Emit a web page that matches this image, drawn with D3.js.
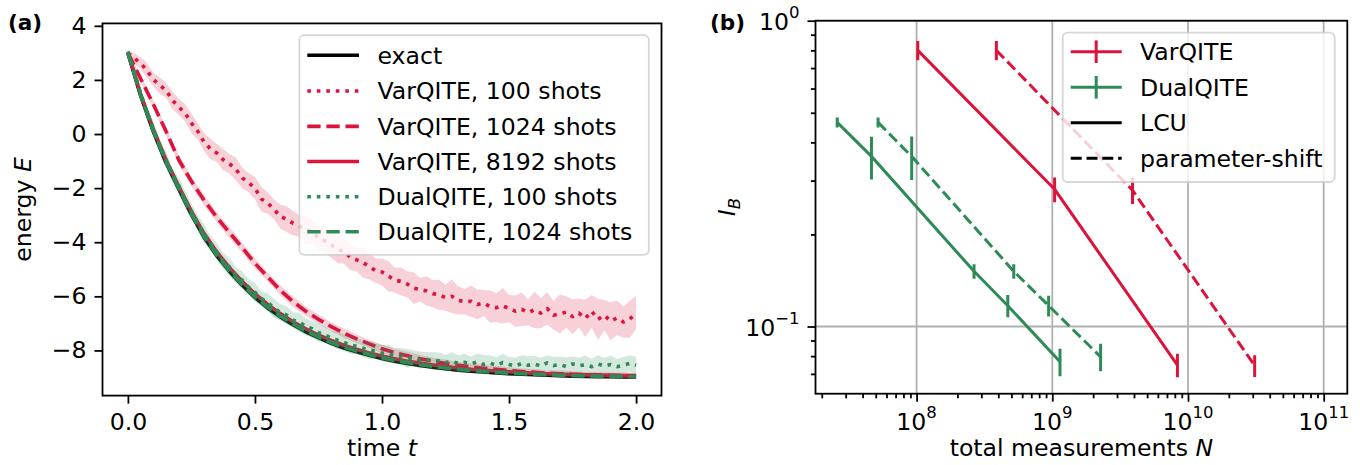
<!DOCTYPE html>
<html><head><meta charset="utf-8">
<script src="https://cdn.jsdelivr.net/npm/d3@7"></script>
<style>body{margin:0;background:#fff} text{font-family:"DejaVu Sans",sans-serif}</style>
</head><body><svg id="c" width="1360" height="465" xmlns="http://www.w3.org/2000/svg"></svg>
<script>
// ---------------- DATA: panel (a) ----------------
const timeCoarse = d3.range(41).map(i => i * 0.05);   // t = 0 ... 2.0
const timeFine = d3.range(81).map(i => i * 0.025);    // t = 0 ... 2.0
const exactE = [3.00,1.42,0.09,-1.06,-2.03,-2.98,-3.82,-4.50,-5.08,-5.59,-6.04,-6.43,-6.76,-7.05,-7.31,-7.53,-7.74,-7.91,-8.05,-8.18,-8.30,-8.40,-8.48,-8.56,-8.62,-8.68,-8.73,-8.77,-8.80,-8.83,-8.86,-8.88,-8.90,-8.92,-8.935,-8.95,-8.96,-8.97,-8.975,-8.98,-8.985];
const var100E = [3.00,2.80,2.62,2.35,2.02,1.80,1.62,1.25,1.00,0.78,
 0.40,0.10,-0.30,-0.55,-0.70,-0.95,-1.10,-1.30,-1.62,-1.80,
 -2.00,-2.40,-2.55,-2.78,-3.05,-3.15,-3.30,-3.40,-3.55,-3.60,
 -3.85,-3.95,-4.10,-4.25,-4.35,-4.55,-4.65,-4.75,-4.90,-5.05,
 -5.10,-5.25,-5.40,-5.45,-5.55,-5.70,-5.75,-5.80,-5.90,-5.95,
 -6.05,-6.00,-6.15,-6.20,-6.18,-6.30,-6.25,-6.38,-6.42,-6.35,
 -6.45,-6.55,-6.48,-6.60,-6.50,-6.62,-6.45,-6.70,-6.65,-6.58,
 -6.75,-6.62,-6.82,-6.55,-6.85,-6.70,-6.92,-6.80,-6.95,-6.85,
 -6.60];
const var100Std = [0.10,0.18,0.22,0.28,0.25,0.30,0.28,0.33,0.30,0.32,
 0.36,0.30,0.34,0.38,0.33,0.40,0.36,0.42,0.38,0.35,
 0.42,0.46,0.40,0.36,0.44,0.48,0.45,0.40,0.52,0.44,
 0.48,0.42,0.46,0.52,0.45,0.48,0.43,0.55,0.48,0.45,
 0.50,0.56,0.46,0.52,0.48,0.58,0.44,0.54,0.50,0.56,
 0.48,0.62,0.52,0.47,0.58,0.55,0.48,0.60,0.53,0.66,
 0.50,0.58,0.62,0.48,0.68,0.56,0.60,0.53,0.72,0.58,
 0.64,0.54,0.68,0.60,0.76,0.56,0.70,0.64,0.58,0.68,
 0.62];
const var1024E = [3.00,2.05,1.10,0.10,-0.95,-1.75,-2.45,-3.08,-3.65,-4.20,-4.78,-5.28,-5.78,-6.20,-6.55,-6.85,-7.12,-7.36,-7.57,-7.76,-7.94,-8.08,-8.20,-8.31,-8.40,-8.48,-8.55,-8.61,-8.66,-8.70,-8.74,-8.78,-8.81,-8.84,-8.86,-8.88,-8.90,-8.91,-8.92,-8.93,-8.94];
const var1024Std = [0.05,0.12,0.15,0.16,0.18,0.17,0.19,0.18,0.20,0.18,0.19,0.17,0.18,0.19,0.17,0.18,0.16,0.17,0.16,0.15,0.16,0.14,0.15,0.14,0.13,0.14,0.12,0.13,0.12,0.13,0.12,0.11,0.12,0.11,0.12,0.11,0.10,0.11,0.10,0.11,0.10];
const var8192E = [3.00,1.48,0.18,-0.96,-1.93,-2.86,-3.68,-4.36,-4.94,-5.45,-5.90,-6.30,-6.64,-6.94,-7.20,-7.43,-7.63,-7.81,-7.96,-8.09,-8.21,-8.31,-8.40,-8.47,-8.54,-8.60,-8.65,-8.70,-8.73,-8.76,-8.79,-8.82,-8.84,-8.86,-8.88,-8.89,-8.90,-8.91,-8.92,-8.93,-8.93];
const dual100E = [3.05,2.30,1.50,0.80,0.20,-0.42,-0.95,-1.50,-1.90,-2.42,
 -2.85,-3.30,-3.68,-4.05,-4.35,-4.70,-4.92,-5.22,-5.40,-5.66,
 -5.85,-6.08,-6.22,-6.45,-6.58,-6.70,-6.88,-6.95,-7.12,-7.20,
 -7.35,-7.42,-7.55,-7.62,-7.70,-7.80,-7.85,-7.92,-8.00,-8.02,
 -8.10,-8.12,-8.20,-8.22,-8.30,-8.28,-8.36,-8.33,-8.40,-8.38,
 -8.45,-8.40,-8.48,-8.44,-8.50,-8.42,-8.52,-8.47,-8.55,-8.45,
 -8.52,-8.58,-8.48,-8.55,-8.50,-8.58,-8.46,-8.56,-8.52,-8.60,
 -8.50,-8.57,-8.53,-8.60,-8.50,-8.58,-8.52,-8.60,-8.55,-8.48,
 -8.55];
const dual100Std = [0.12,0.20,0.25,0.22,0.28,0.24,0.30,0.26,0.28,0.32,
 0.27,0.30,0.34,0.28,0.32,0.30,0.35,0.29,0.33,0.30,
 0.34,0.28,0.32,0.36,0.30,0.33,0.28,0.35,0.31,0.29,
 0.33,0.30,0.27,0.34,0.30,0.32,0.28,0.31,0.34,0.29,
 0.30,0.33,0.28,0.31,0.35,0.29,0.32,0.27,0.33,0.30,
 0.28,0.34,0.30,0.32,0.27,0.31,0.35,0.29,0.30,0.33,
 0.28,0.32,0.30,0.34,0.29,0.31,0.27,0.33,0.30,0.35,
 0.28,0.31,0.33,0.29,0.32,0.30,0.34,0.28,0.31,0.30,
 0.32];
const dual1024E = [3.00,1.45,0.12,-1.02,-2.00,-2.95,-3.79,-4.47,-5.05,-5.56,-6.01,-6.40,-6.73,-7.02,-7.28,-7.50,-7.71,-7.88,-8.02,-8.15,-8.27,-8.37,-8.45,-8.53,-8.59,-8.65,-8.70,-8.74,-8.78,-8.81,-8.84,-8.86,-8.88,-8.90,-8.915,-8.93,-8.94,-8.95,-8.955,-8.96,-8.965];
const dual1024Std = [0.05,0.12,0.14,0.15,0.16,0.15,0.16,0.15,0.16,0.14,0.15,0.14,0.15,0.13,0.14,0.13,0.12,0.13,0.12,0.12,0.11,0.12,0.11,0.10,0.11,0.10,0.10,0.09,0.10,0.09,0.09,0.08,0.09,0.08,0.09,0.08,0.08,0.07,0.08,0.07,0.07];
const xTicksA = [0, 0.5, 1.0, 1.5, 2.0];
const yTicksA = [4, 2, 0, -2, -4, -6, -8];
const legendLabelsA = ["exact","VarQITE, 100 shots","VarQITE, 1024 shots","VarQITE, 8192 shots","DualQITE, 100 shots","DualQITE, 1024 shots"];

// ---------------- DATA: panel (b) ----------------
const varLcuN = [1.02e8, 1.04e9, 8.36e9];
const varLcuI = [0.80, 0.281, 0.0748];
const varLcuErr = [0.058, 0.026, 0.0066];
const varPsN = [3.87e8, 3.9e9, 3.1e10];
const varPsI = [0.80, 0.279, 0.0745];
const varPsErr = [0.058, 0.0276, 0.0061];
const dualLcuN = [2.6e7, 4.65e7, 2.65e8, 4.7e8, 1.14e9];
const dualLcuI = [0.465, 0.36, 0.1515, 0.117, 0.0767];
const dualLcuErr = [0.0179, 0.0577, 0.0082, 0.0097, 0.0079];
const dualPsN = [5.2e7, 9.2e7, 5.2e8, 9.4e8, 2.27e9];
const dualPsI = [0.465, 0.36, 0.1515, 0.117, 0.0796];
const dualPsErr = [0.0179, 0.0585, 0.0082, 0.0091, 0.0082];
const xTicksB = [1e8, 1e9, 1e10, 1e11];
const yTicksB = [0.1, 1];
const legendLabelsB = ["VarQITE", "DualQITE", "LCU", "parameter-shift"];

// ---------------- STYLE ----------------
const RED = "#DC143C", GREEN = "#2E8B57";
const FS = 23.6, FONT = '"DejaVu Sans", sans-serif';
const svg = d3.select("#c");
const defs = svg.append("defs");

function styleAxis(g) {
  g.select(".domain").remove();
  g.selectAll(".tick line").attr("stroke", "#000").attr("stroke-width", 1.8);
  g.selectAll(".tick text").attr("font-size", FS).attr("font-family", FONT).attr("fill", "#000");
}

// ================= PANEL (a) =================
const A = {l: 102.5, r: 661.5, t: 23.4, b: 395.6};
const xA = d3.scaleLinear().domain([-0.1, 2.1]).range([A.l, A.r]);
const yA = d3.scaleLinear().domain([-9.67, 4.09]).range([A.b, A.t]);
defs.append("clipPath").attr("id", "clipA").append("rect")
  .attr("x", A.l).attr("y", A.t).attr("width", A.r - A.l).attr("height", A.b - A.t);
const gA = svg.append("g");
const plotA = gA.append("g").attr("clip-path", "url(#clipA)");

const LW = 3.6;
const DASH = "13.3,5.8", DOT = "3.6,5.9";
const seriesA = [
  {t: timeCoarse, v: exactE, std: null, color: "#000", dash: null},
  {t: timeFine, v: var100E, std: var100Std, color: RED, dash: DOT},
  {t: timeCoarse, v: var1024E, std: var1024Std, color: RED, dash: DASH},
  {t: timeCoarse, v: var8192E, std: null, color: RED, dash: null},
  {t: timeFine, v: dual100E, std: dual100Std, color: GREEN, dash: DOT},
  {t: timeCoarse, v: dual1024E, std: dual1024Std, color: GREEN, dash: DASH}
];
seriesA.forEach(s => {
  if (s.std) {
    const area = d3.area()
      .x((d, i) => xA(s.t[i]))
      .y0((d, i) => yA(s.v[i] - s.std[i]))
      .y1((d, i) => yA(s.v[i] + s.std[i]));
    plotA.append("path").attr("d", area(s.v)).attr("fill", s.color).attr("fill-opacity", 0.2).attr("stroke", "none");
  }
  const line = d3.line().x((d, i) => xA(s.t[i])).y(d => yA(d));
  plotA.append("path").attr("d", line(s.v)).attr("fill", "none").attr("stroke", s.color)
    .attr("stroke-width", LW).attr("stroke-dasharray", s.dash).attr("stroke-linecap", "butt").attr("stroke-linejoin", "round");
});

const axXA = gA.append("g").attr("transform", `translate(0,${A.b})`)
  .call(d3.axisBottom(xA).tickValues(xTicksA).tickFormat(d3.format(".1f")).tickSize(8).tickPadding(10));
styleAxis(axXA);
const axYA = gA.append("g").attr("transform", `translate(${A.l},0)`)
  .call(d3.axisLeft(yA).tickValues(yTicksA).tickFormat(d3.format("d")).tickSize(8).tickPadding(8));
styleAxis(axYA);
gA.append("rect").attr("x", A.l).attr("y", A.t).attr("width", A.r - A.l).attr("height", A.b - A.t)
  .attr("fill", "none").attr("stroke", "#000").attr("stroke-width", 1.8);

// legend (a)
const LA = {x: 299.4, y: 35.1, w: 349.4, h: 219.7};
gA.append("rect").attr("x", LA.x).attr("y", LA.y).attr("width", LA.w).attr("height", LA.h).attr("rx", 5)
  .attr("fill", "#fff").attr("fill-opacity", 0.8).attr("stroke", "#ccc").attr("stroke-opacity", 0.8).attr("stroke-width", 1.8);
const rowsA = [55.2, 91, 126.4, 161.5, 196.7, 231.8];
legendLabelsA.forEach((lab, i) => {
  const s = seriesA[i], y = rowsA[i];
  gA.append("line").attr("x1", 307.3).attr("x2", 359).attr("y1", y).attr("y2", y)
    .attr("stroke", s.color).attr("stroke-width", LW).attr("stroke-dasharray", s.dash);
  gA.append("text").attr("x", 377.5).attr("y", y + 8.4).attr("font-size", FS).text(lab);
});

// labels (a)
gA.append("text").attr("x", xA(1.0)).attr("y", 456).attr("text-anchor", "middle").attr("font-size", FS)
  .call(t => { t.append("tspan").text("time "); t.append("tspan").attr("font-style", "italic").text("t"); });
gA.append("text").attr("transform", `translate(31,${(A.t + A.b) / 2}) rotate(-90)`).attr("text-anchor", "middle").attr("font-size", FS)
  .call(t => { t.append("tspan").text("energy "); t.append("tspan").attr("font-style", "italic").text("E"); });
svg.append("text").attr("x", 8).attr("y", 30).attr("font-size", 21.5).attr("font-weight", "bold").text("(a)");

// ================= PANEL (b) =================
const B = {l: 815.5, r: 1347.3, t: 20.7, b: 393.7};
const xB = d3.scaleLog().domain([Math.pow(10, 7.255), Math.pow(10, 11.174)]).range([B.l, B.r]);
const yB = d3.scaleLog().domain([0.0603, 1]).range([B.b, B.t]);
defs.append("clipPath").attr("id", "clipB").append("rect")
  .attr("x", B.l).attr("y", B.t).attr("width", B.r - B.l).attr("height", B.b - B.t);
const gB = svg.append("g");
const plotB = gB.append("g").attr("clip-path", "url(#clipB)");

// grid
xTicksB.forEach(v => plotB.append("line").attr("x1", xB(v)).attr("x2", xB(v)).attr("y1", B.t).attr("y2", B.b)
  .attr("stroke", "#b0b0b0").attr("stroke-width", 1.8));
yTicksB.forEach(v => plotB.append("line").attr("x1", B.l).attr("x2", B.r).attr("y1", yB(v)).attr("y2", yB(v))
  .attr("stroke", "#b0b0b0").attr("stroke-width", 1.8));

const LWB = 3.0, DASHB = "11,4.8";
const seriesB = [
  {N: varLcuN, I: varLcuI, e: varLcuErr, color: RED, dash: null},
  {N: varPsN, I: varPsI, e: varPsErr, color: RED, dash: DASHB},
  {N: dualLcuN, I: dualLcuI, e: dualLcuErr, color: GREEN, dash: null},
  {N: dualPsN, I: dualPsI, e: dualPsErr, color: GREEN, dash: DASHB}
];
seriesB.forEach(s => {
  const line = d3.line().x((d, i) => xB(s.N[i])).y(d => yB(d));
  plotB.append("path").attr("d", line(s.I)).attr("fill", "none").attr("stroke", s.color)
    .attr("stroke-width", LWB).attr("stroke-dasharray", s.dash);
  s.N.forEach((n, i) => {
    plotB.append("line").attr("x1", xB(n)).attr("x2", xB(n))
      .attr("y1", yB(s.I[i] - s.e[i])).attr("y2", yB(s.I[i] + s.e[i]))
      .attr("stroke", s.color).attr("stroke-width", LWB);
  });
});

// minor ticks
const [xd0, xd1] = xB.domain();
const xMinor = [];
for (let e = 7; e <= 11; e++) for (let k = 2; k <= 9; k++) { const v = k * Math.pow(10, e); if (v > xd0 && v < xd1) xMinor.push(v); }
const [yd0, yd1] = yB.domain();
const yMinor = [];
for (let e = -2; e <= 0; e++) for (let k = 2; k <= 9; k++) { const v = k * Math.pow(10, e); if (v > yd0 && v < yd1) yMinor.push(v); }

const axXBmin = gB.append("g").attr("transform", `translate(0,${B.b})`)
  .call(d3.axisBottom(xB).tickValues(xMinor).tickFormat("").tickSize(4.6));
styleAxis(axXBmin);
const axXB = gB.append("g").attr("transform", `translate(0,${B.b})`)
  .call(d3.axisBottom(xB).tickValues(xTicksB).tickFormat("").tickSize(8));
styleAxis(axXB);
const axYBmin = gB.append("g").attr("transform", `translate(${B.l},0)`)
  .call(d3.axisLeft(yB).tickValues(yMinor).tickFormat("").tickSize(4.6));
styleAxis(axYBmin);
const axYB = gB.append("g").attr("transform", `translate(${B.l},0)`)
  .call(d3.axisLeft(yB).tickValues(yTicksB).tickFormat("").tickSize(8));
styleAxis(axYB);

function expLabel(sel, v) {
  const ex = Math.round(Math.log10(v));
  sel.append("tspan").text("10");
  sel.append("tspan").attr("font-size", 16.5).attr("dy", -12).text(ex < 0 ? "\u2212" + (-ex) : String(ex));
}
xTicksB.forEach(v => {
  gB.append("text").attr("x", xB(v)).attr("y", 430).attr("text-anchor", "middle").attr("font-size", FS)
    .call(t => expLabel(t, v));
});
yTicksB.forEach(v => {
  gB.append("text").attr("x", B.l - 16).attr("y", yB(v) + 9).attr("text-anchor", "end").attr("font-size", FS)
    .call(t => expLabel(t, v));
});

gB.append("rect").attr("x", B.l).attr("y", B.t).attr("width", B.r - B.l).attr("height", B.b - B.t)
  .attr("fill", "none").attr("stroke", "#000").attr("stroke-width", 1.8);

// legend (b)
const LB = {x: 1062.7, y: 32.7, w: 272, h: 149.3};
gB.append("rect").attr("x", LB.x).attr("y", LB.y).attr("width", LB.w).attr("height", LB.h).attr("rx", 5)
  .attr("fill", "#fff").attr("fill-opacity", 0.8).attr("stroke", "#ccc").attr("stroke-opacity", 0.8).attr("stroke-width", 1.8);
const rowsB = [51.7, 87.3, 122.7, 158.3];
const legHandlesB = [
  {color: RED, dash: null, bar: true},
  {color: GREEN, dash: null, bar: true},
  {color: "#000", dash: null, bar: false},
  {color: "#000", dash: DASHB, bar: false}
];
legendLabelsB.forEach((lab, i) => {
  const h = legHandlesB[i], y = rowsB[i];
  gB.append("line").attr("x1", 1070.7).attr("x2", 1121.7).attr("y1", y).attr("y2", y)
    .attr("stroke", h.color).attr("stroke-width", LWB).attr("stroke-dasharray", h.dash);
  if (h.bar) gB.append("line").attr("x1", 1096.2).attr("x2", 1096.2).attr("y1", y - 11.3).attr("y2", y + 11.3)
    .attr("stroke", h.color).attr("stroke-width", LWB);
  gB.append("text").attr("x", 1140).attr("y", y + 8.4).attr("font-size", FS).text(lab);
});

// labels (b)
gB.append("text").attr("x", (B.l + B.r) / 2).attr("y", 456).attr("text-anchor", "middle").attr("font-size", FS)
  .call(t => { t.append("tspan").text("total measurements "); t.append("tspan").attr("font-style", "italic").text("N"); });
gB.append("text").attr("transform", `translate(735,${(B.t + B.b) / 2}) rotate(-90)`).attr("text-anchor", "middle").attr("font-size", FS)
  .call(t => { t.append("tspan").attr("font-style", "italic").text("I");
               t.append("tspan").attr("font-style", "italic").attr("font-size", 16.5).attr("dy", 5).text("B"); });
svg.append("text").attr("x", 710).attr("y", 30).attr("font-size", 21.5).attr("font-weight", "bold").text("(b)");
</script>
</body></html>
